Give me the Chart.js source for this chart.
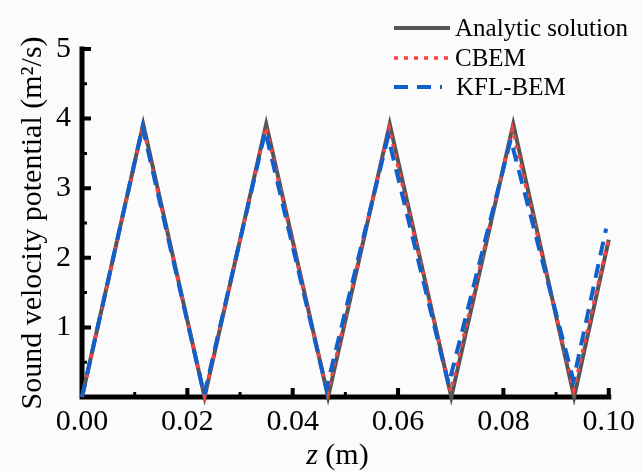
<!DOCTYPE html>
<html>
<head>
<meta charset="utf-8">
<script src="https://cdn.jsdelivr.net/npm/chart.js@4/dist/chart.umd.min.js"></script>
<style>
  html, body { margin: 0; padding: 0; background: #fbfbfb; }
  #wrap { width: 642px; height: 471px; }
</style>
</head>
<body>
<div id="wrap"><canvas id="chart"></canvas></div>
<script>
// data (vertices of each curve)
const analyticX = [0, 0.01162, 0.02327, 0.03497, 0.04672, 0.05842, 0.07011, 0.08187, 0.09343, 0.1];
const analyticY = [0, 3.92, 0, 3.92, 0, 3.92, 0, 3.92, 0, 2.26];
const cbemX = [0, 0.01158, 0.02327, 0.03492, 0.04665, 0.05830, 0.07000, 0.08170, 0.09335, 0.1];
const cbemY = [0, 3.88, 0.02, 3.88, 0.05, 3.86, 0.08, 3.85, 0.10, 2.28];
const kflX = [0, 0.01150, 0.02320, 0.03480, 0.04640, 0.05810, 0.06960, 0.08140, 0.09330, 0.0995];
const kflY = [0, 3.88, 0.03, 3.82, 0.12, 3.74, 0.18, 3.70, 0.24, 2.42];

const seriesNames = ['Analytic solution', 'CBEM', 'KFL-BEM'];
const xMajor = [0, 0.02, 0.04, 0.06, 0.08, 0.10];
const xMinor = [0.01, 0.03, 0.05, 0.07, 0.09];
const yMajor = [1, 2, 3, 4, 5];
const yMinor = [0.5, 1.5, 2.5, 3.5, 4.5];

const serif = "'Liberation Serif', 'Times New Roman', serif";

const toPoints = (xs, ys) => xs.map((x, i) => ({x: x, y: ys[i]}));

const bgPlugin = {
  id: 'bg',
  beforeDraw(chart) {
    const ctx = chart.ctx;
    ctx.save();
    ctx.fillStyle = '#fbfbfb';
    ctx.fillRect(0, 0, chart.width, chart.height);
    ctx.restore();
  }
};

// axes drawn with inward ticks, under the data
const axesPlugin = {
  id: 'axes',
  beforeDatasetsDraw(chart) {
    const {ctx, chartArea: a, scales: {x, y}} = chart;
    ctx.save();
    ctx.strokeStyle = '#000';
    ctx.lineCap = 'butt';
    ctx.lineWidth = 3;
    ctx.beginPath();
    xMinor.forEach(v => { const px = x.getPixelForValue(v); ctx.moveTo(px, a.bottom); ctx.lineTo(px, a.bottom - 5); });
    yMinor.forEach(v => { const py = y.getPixelForValue(v); ctx.moveTo(a.left, py); ctx.lineTo(a.left + 5, py); });
    ctx.stroke();
    ctx.lineWidth = 4;
    ctx.beginPath();
    xMajor.forEach(v => { const px = x.getPixelForValue(v); ctx.moveTo(px, a.bottom); ctx.lineTo(px, a.bottom - 9); });
    yMajor.forEach(v => { const py = y.getPixelForValue(v); ctx.moveTo(a.left, py); ctx.lineTo(a.left + 9, py); });
    ctx.stroke();
    ctx.lineWidth = 5;
    ctx.lineCap = 'square';
    ctx.beginPath();
    ctx.moveTo(a.left, a.top);
    ctx.lineTo(a.left, a.bottom);
    ctx.lineTo(a.right, a.bottom);
    ctx.stroke();
    ctx.restore();
  }
};

// x title with italic z, and the legend in the top right corner
const extrasPlugin = {
  id: 'extras',
  afterDraw(chart) {
    const {ctx, chartArea: a} = chart;
    ctx.save();
    ctx.fillStyle = '#000';
    ctx.textBaseline = 'alphabetic';
    ctx.font = 'italic 30px ' + serif;
    const zW = ctx.measureText('z').width;
    ctx.font = '30px ' + serif;
    const restW = ctx.measureText(' (m)').width;
    const cx = (a.left + a.right) / 2 - 8;
    let tx = cx - (zW + restW) / 2;
    ctx.font = 'italic 30px ' + serif;
    ctx.fillText('z', tx, 464);
    ctx.font = '30px ' + serif;
    ctx.fillText(' (m)', tx + zW, 464);

    const rows = [28, 58, 87];
    chart.data.datasets.forEach((ds, i) => {
      const yy = rows[i];
      ctx.strokeStyle = ds.borderColor;
      ctx.lineWidth = ds.borderWidth;
      ctx.setLineDash(ds.borderDash || []);
      ctx.beginPath();
      ctx.moveTo(394, yy);
      ctx.lineTo(i === 2 ? 442 : 450, yy);
      ctx.stroke();
      ctx.setLineDash([]);
      ctx.fillStyle = '#000';
      ctx.font = '25px ' + serif;
      ctx.textBaseline = 'middle';
      ctx.fillText(ds.label, i === 2 ? 456 : 455, yy + 1);
    });
    ctx.restore();
  }
};

new Chart(document.getElementById('chart'), {
  type: 'line',
  data: {
    datasets: [
      {
        label: seriesNames[0],
        data: toPoints(analyticX, analyticY),
        borderColor: '#555555',
        borderWidth: 4,
        pointRadius: 0,
        tension: 0,
        clip: 8,
        order: 2
      },
      {
        label: seriesNames[1],
        data: toPoints(cbemX, cbemY),
        borderColor: '#ff4040',
        borderWidth: 3.5,
        borderDash: [4, 6],
        pointRadius: 0,
        tension: 0,
        clip: 8,
        order: 1
      },
      {
        label: seriesNames[2],
        data: toPoints(kflX, kflY),
        borderColor: '#1060cc',
        borderWidth: 4,
        borderDash: [14, 9],
        pointRadius: 0,
        tension: 0,
        clip: 8,
        order: 0
      }
    ]
  },
  options: {
    responsive: true,
    maintainAspectRatio: false,
    animation: false,
    layout: { padding: { top: 49, right: 27, left: 0, bottom: 0 } },
    plugins: {
      legend: { display: false },
      tooltip: { enabled: false }
    },
    scales: {
      x: {
        type: 'linear',
        min: 0,
        max: 0.1,
        afterFit(scale) { scale.height = 74; },
        afterBuildTicks(scale) { scale.ticks = xMajor.map(v => ({value: v})); },
        grid: { display: false, drawTicks: false },
        border: { display: false },
        ticks: {
          padding: 7,
          color: '#000',
          font: { family: serif, size: 30 },
          maxRotation: 0,
          callback: v => v.toFixed(2)
        }
      },
      y: {
        min: 0,
        max: 5,
        afterFit(scale) { scale.width = 82; },
        afterBuildTicks(scale) { scale.ticks = yMajor.map(v => ({value: v})); },
        grid: { display: false, drawTicks: false },
        border: { display: false },
        ticks: {
          padding: 11,
          color: '#000',
          font: { family: serif, size: 30 },
          callback: v => String(v)
        },
        title: {
          display: true,
          text: 'Sound velocity potential (m²/s)',
          color: '#000',
          font: { family: serif, size: 30 },
          padding: { top: 15, bottom: 0 }
        }
      }
    }
  },
  plugins: [bgPlugin, axesPlugin, extrasPlugin]
});
</script>
</body>
</html>
